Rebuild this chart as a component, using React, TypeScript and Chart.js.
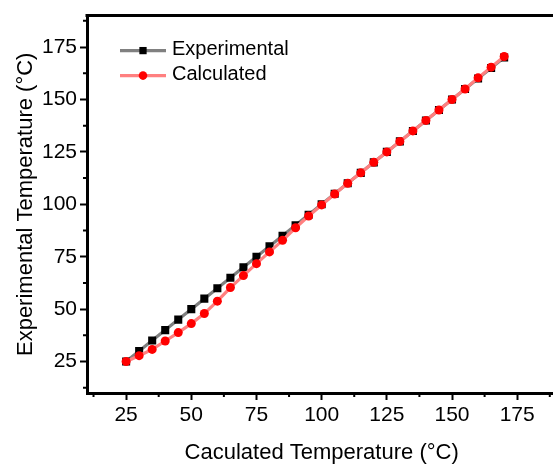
import React, { useEffect, useRef } from "react";
import { Chart, registerables } from "chart.js";

Chart.register(...registerables);

const calculatedTemps = [25, 30, 35, 40, 45, 50, 55, 60, 65, 70, 75, 80, 85, 90, 95, 100, 105, 110, 115, 120, 125, 130, 135, 140, 145, 150, 155, 160, 165, 170];
const experimentalValues = [25, 30, 35, 40, 45, 50, 55, 60, 65, 70, 75, 80, 85, 90, 95, 100, 105, 110, 115, 120, 125, 130, 135, 140, 145, 150, 155, 160, 165, 170];
const calculatedValues = [25, 27.8, 30.8, 34.8, 38.8, 43.1, 47.9, 53.8, 60.3, 66, 71.7, 77.3, 82.8, 88.8, 94.4, 99.7, 104.9, 110, 115, 120, 125, 130, 135, 140, 145, 150, 155, 160.3, 165.4, 170.5];
const xTickValues = [25, 50, 75, 100, 125, 150, 175];
const yTickValues = [25, 50, 75, 100, 125, 150, 175];
const minorTickValues = [12.5, 37.5, 62.5, 87.5, 112.5, 137.5, 162.5, 187.5];

const FONT = "'Liberation Sans', Arial, sans-serif";

const framePlugin = {
  id: "frame",
  afterDraw(chart: any) {
    const { ctx, chartArea } = chart;
    const xs = chart.scales.x;
    const ys = chart.scales.y;
    ctx.save();
    ctx.strokeStyle = "#000";
    ctx.lineWidth = 3;
    ctx.beginPath();
    ctx.moveTo(chartArea.left - 1.5, chartArea.top);
    ctx.lineTo(chartArea.right + 1.5, chartArea.top);
    ctx.moveTo(chartArea.right, chartArea.top);
    ctx.lineTo(chartArea.right, chartArea.bottom);
    ctx.stroke();
    ctx.lineWidth = 2;
    ctx.beginPath();
    for (const v of minorTickValues) {
      if (v > xs.min && v < xs.max) {
        const px = xs.getPixelForValue(v);
        ctx.moveTo(px, chartArea.bottom);
        ctx.lineTo(px, chartArea.bottom + 4);
      }
      if (v > ys.min && v < ys.max) {
        const py = ys.getPixelForValue(v);
        ctx.moveTo(chartArea.left, py);
        ctx.lineTo(chartArea.left - 4, py);
      }
    }
    ctx.stroke();

    // legend
    const x0 = chartArea.left + 33;
    const lineLen = 46;
    const rows = [chartArea.top + 35, chartArea.top + 60];
    chart.data.datasets.slice().sort((a: any, b: any) => b.order - a.order).forEach((ds: any, i: number) => {
      const y = rows[i];
      ctx.strokeStyle = ds.borderColor;
      ctx.lineWidth = ds.borderWidth;
      ctx.beginPath();
      ctx.moveTo(x0, y);
      ctx.lineTo(x0 + lineLen, y);
      ctx.stroke();
      ctx.fillStyle = ds.pointBackgroundColor;
      const cx = x0 + lineLen / 2;
      if (ds.pointStyle === "rect") {
        const s = ds.pointRadius * Math.SQRT1_2 * 0.9;
        ctx.fillRect(cx - s, y - s, 2 * s, 2 * s);
      } else {
        ctx.beginPath();
        ctx.arc(cx, y, ds.pointRadius * 0.95, 0, Math.PI * 2);
        ctx.fill();
      }
      ctx.fillStyle = "#000";
      ctx.font = `20px ${FONT}`;
      ctx.textBaseline = "middle";
      ctx.textAlign = "left";
      ctx.fillText(ds.label, x0 + lineLen + 6, y - 1);
    });
    ctx.restore();
  },
};

export default function App() {
  const ref = useRef<HTMLCanvasElement | null>(null);

  useEffect(() => {
    if (!ref.current) return;
    const chart = new Chart(ref.current, {
      type: "line",
      data: {
        datasets: [
          {
            label: "Experimental",
            data: calculatedTemps.map((x, i) => ({ x, y: experimentalValues[i] })),
            borderColor: "#808080",
            borderWidth: 3.2,
            pointStyle: "rect",
            pointRadius: 5.7,
            pointBackgroundColor: "#000000",
            pointBorderColor: "#000000",
            pointBorderWidth: 0,
            order: 2,
          },
          {
            label: "Calculated",
            data: calculatedTemps.map((x, i) => ({ x, y: calculatedValues[i] })),
            borderColor: "#ff8080",
            borderWidth: 3.2,
            pointStyle: "circle",
            pointRadius: 4.5,
            pointBackgroundColor: "#ff0000",
            pointBorderColor: "#ff0000",
            pointBorderWidth: 0,
            order: 1,
          },
        ] as any,
      },
      options: {
        animation: false,
        responsive: false,
        layout: { padding: { top: 11, left: 0, right: 0, bottom: 0 } },
        plugins: { legend: { display: false }, tooltip: { enabled: false } },
        scales: {
          x: {
            type: "linear",
            position: "bottom",
            min: 10,
            max: 190,
            afterBuildTicks: (s: any) => {
              s.ticks = xTickValues.map((v) => ({ value: v }));
            },
            afterFit: (s: any) => {
              s.height = 71;
            },
            grid: { display: true, drawOnChartArea: false, drawTicks: true, tickLength: 7, tickWidth: 2, tickColor: "#000" },
            border: { display: true, color: "#000", width: 3 },
            ticks: { color: "#000", font: { family: FONT, size: 21 }, padding: 3, maxRotation: 0, autoSkip: false },
            title: { display: true, text: "Caculated Temperature (°C)", color: "#000", font: { family: FONT, size: 22 }, padding: { top: 0, bottom: -2 } },
          },
          y: {
            type: "linear",
            min: 10,
            max: 190,
            afterBuildTicks: (s: any) => {
              s.ticks = yTickValues.map((v) => ({ value: v }));
            },
            afterFit: (s: any) => {
              s.width = 87;
            },
            grid: { display: true, drawOnChartArea: false, drawTicks: true, tickLength: 7, tickWidth: 2, tickColor: "#000" },
            border: { display: true, color: "#000", width: 3 },
            ticks: { color: "#000", font: { family: FONT, size: 21 }, padding: 3, autoSkip: false },
            title: { display: true, text: "Experimental Temperature (°C)", color: "#000", font: { family: FONT, size: 22 }, padding: { top: 13, bottom: 0 } },
          },
        },
      } as any,
      plugins: [framePlugin],
    });
    return () => chart.destroy();
  }, []);

  return (
    <div style={{ position: "fixed", left: 0, top: 0, width: 553, height: 464, overflow: "hidden", background: "#fff" }}>
      <canvas ref={ref} width={562} height={464} style={{ display: "block" }} />
    </div>
  );
}
